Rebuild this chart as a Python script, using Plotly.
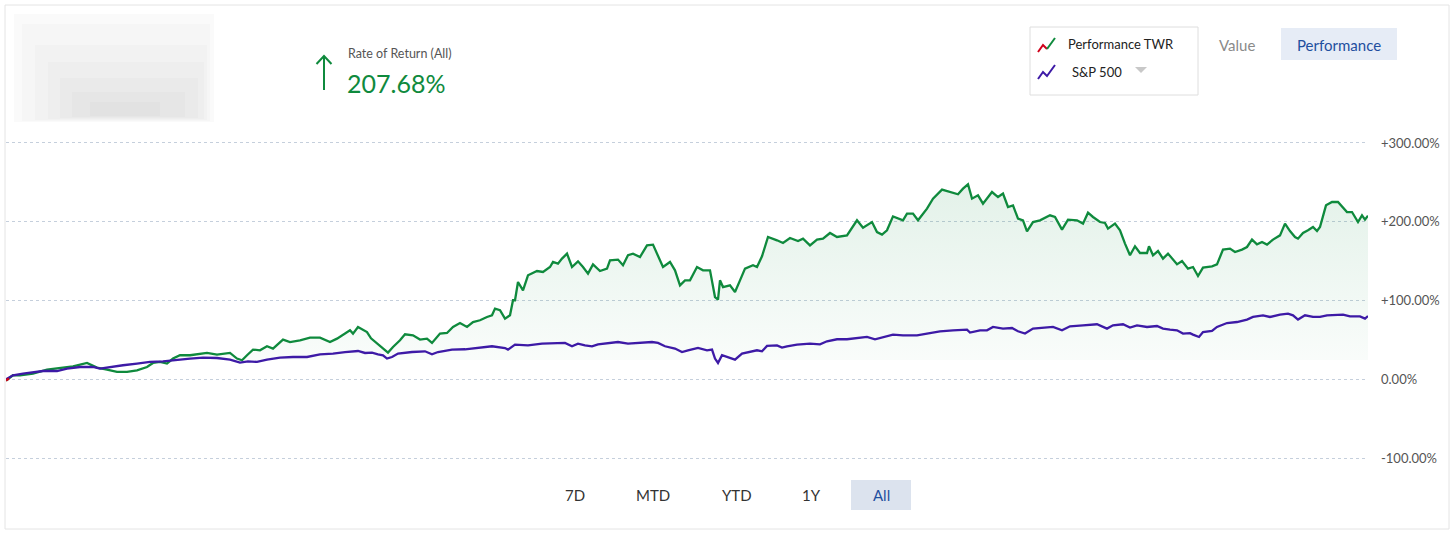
import plotly.graph_objects as go

# trading-day index (from start) and cumulative return in %
twr_day = [0, 3, 7, 14, 27, 41, 54, 67, 81, 91, 101, 111, 121, 131, 141, 147, 154, 161, 167, 174,
           184, 194, 201, 211, 224, 231, 236, 241, 247, 254, 261, 267, 277, 284, 294, 304, 314, 324,
           331, 344, 347, 352, 361, 365, 371, 377, 382, 387, 394, 399, 407, 414, 421, 426, 434, 441,
           447, 454, 461, 467, 474, 481, 486, 489, 494, 499, 504, 507, 509, 512, 517, 522, 531, 537,
           544, 547, 552, 556, 561, 566, 572, 577, 582, 587, 594, 601, 604, 612, 617, 622, 627, 634,
           641, 647, 654, 657, 664, 669, 674, 679, 684, 691, 697, 704, 709, 712, 714, 717, 724, 729,
           734, 739, 747, 751, 756, 762, 771, 777, 784, 792, 797, 804, 811, 817, 824, 831, 841, 851,
           857, 866, 871, 876, 881, 887, 897, 901, 907, 912, 921, 927, 936, 944, 952, 957, 962, 966,
           972, 977, 986, 992, 997, 1002, 1007, 1012, 1017, 1021, 1027, 1034, 1044, 1049, 1056, 1062,
           1071, 1077, 1082, 1087, 1094, 1099, 1102, 1109, 1114, 1119, 1124, 1129, 1134, 1141, 1143,
           1147, 1152, 1157, 1162, 1171, 1176, 1182, 1187, 1192, 1197, 1206, 1211, 1217, 1224, 1229,
           1236, 1241, 1246, 1251, 1256, 1261, 1267, 1274, 1279, 1284, 1289, 1292, 1297, 1302, 1307,
           1311, 1314, 1320, 1326, 1332, 1341, 1346, 1352, 1356, 1359, 1362]
twr_pct = [-1.5, 1.0, 5.1, 5.1, 7.2, 12.3, 14.8, 16.5, 20.7, 14.8, 12.3, 9.3, 9.3, 11.4, 15.6, 20.7,
           22.0, 19.9, 26.3, 30.5, 30.5, 32.6, 33.4, 31.3, 33.4, 26.3, 24.1, 30.5, 37.7, 36.8, 41.9,
           39.0, 50.4, 47.3, 49.5, 52.9, 52.9, 47.3, 51.6, 62.2, 58.0, 66.4, 60.0, 52.0, 45.3, 39.0,
           33.9, 41.0, 49.5, 57.1, 55.8, 50.4, 51.6, 46.1, 58.0, 58.8, 66.4, 71.4, 66.4, 72.7, 74.9,
           79.1, 81.2, 89.7, 87.6, 77.0, 81.2, 100.3, 100.3, 123.5, 112.9, 132.0, 137.4, 136.2, 142.5,
           148.9, 146.8, 153.2, 159.5, 142.5, 149.7, 142.5, 134.1, 145.9, 137.4, 140.5, 151.0, 151.9,
           144.7, 157.4, 159.5, 155.2, 170.0, 170.9, 151.0, 142.5, 148.9, 138.3, 119.3, 125.6, 125.6,
           142.5, 138.3, 138.3, 104.4, 101.1, 125.6, 117.1, 119.3, 110.8, 125.6, 140.5, 144.7, 142.5,
           156.1, 180.6, 176.4, 173.0, 179.3, 175.5, 178.5, 170.0, 177.3, 178.5, 185.7, 180.6, 182.7,
           201.8, 192.5, 199.6, 186.9, 183.6, 189.1, 206.8, 201.8, 210.3, 210.3, 201.8, 216.6, 229.3,
           240.7, 237.7, 234.8, 242.0, 247.5, 229.3, 233.5, 223.0, 237.7, 231.3, 235.7, 218.7, 220.8,
           203.9, 201.8, 187.8, 199.6, 201.8, 208.1, 206.0, 190.0, 202.7, 201.8, 197.6, 211.5, 206.0,
           199.6, 198.4, 191.2, 197.6, 189.1, 172.2, 157.4, 168.8, 160.3, 160.3, 168.8, 157.4, 162.8,
           153.2, 159.5, 145.9, 150.1, 140.5, 142.5, 131.1, 141.7, 143.4, 145.9, 164.6, 165.9, 161.5,
           164.6, 167.9, 177.3, 171.3, 174.2, 170.9, 177.3, 182.7, 197.6, 188.2, 180.6, 178.5, 185.7,
           189.1, 193.3, 188.2, 193.3, 220.8, 225.0, 225.0, 212.3, 212.3, 199.6, 208.1, 202.7, 207.68]

spx_day = [0, 7, 17, 27, 37, 51, 61, 74, 87, 94, 104, 117, 131, 144, 157, 171, 184, 197, 211, 224,
           234, 242, 251, 261, 274, 287, 301, 314, 327, 339, 352, 359, 366, 372, 377, 381, 386, 392,
           406, 419, 426, 432, 446, 459, 472, 486, 499, 502, 509, 522, 536, 549, 559, 566, 572, 579,
           586, 592, 606, 612, 622, 632, 646, 652, 659, 669, 676, 682, 692, 701, 706, 709, 712, 716,
           721, 726, 729, 736, 744, 751, 756, 761, 771, 776, 781, 791, 804, 814, 821, 831, 841, 851,
           861, 869, 877, 887, 897, 911, 921, 934, 947, 961, 964, 974, 981, 987, 997, 1006, 1012, 1019,
           1027, 1034, 1047, 1056, 1064, 1077, 1091, 1101, 1107, 1117, 1124, 1131, 1141, 1151, 1157,
           1164, 1171, 1177, 1184, 1187, 1193, 1197, 1206, 1211, 1221, 1231, 1241, 1247, 1257, 1264,
           1274, 1282, 1287, 1292, 1299, 1307, 1314, 1321, 1331, 1337, 1344, 1354, 1359, 1362]
spx_pct = [0.0, 5.1, 7.2, 9.3, 10.5, 10.5, 13.6, 15.6, 15.6, 13.6, 15.6, 17.8, 19.9, 22.0, 22.8, 25.0,
           26.3, 27.5, 27.0, 25.0, 21.2, 22.8, 22.0, 25.0, 27.5, 28.3, 28.3, 31.7, 32.6, 34.6, 35.9,
           33.4, 33.9, 31.7, 30.5, 26.3, 28.3, 32.6, 34.6, 35.5, 31.7, 34.6, 37.7, 38.1, 39.7, 41.9,
           39.7, 37.7, 44.0, 43.1, 45.3, 46.1, 46.1, 41.9, 45.3, 43.1, 41.9, 44.4, 46.1, 47.3, 45.3,
           46.1, 47.3, 46.1, 41.9, 39.0, 34.6, 36.8, 39.7, 36.8, 37.7, 26.3, 20.7, 30.5, 28.3, 27.0,
           25.0, 32.6, 34.6, 36.8, 35.5, 42.3, 43.1, 40.2, 41.9, 44.0, 45.3, 44.4, 48.2, 50.8, 50.8,
           52.4, 53.7, 50.8, 53.7, 56.7, 55.8, 55.8, 58.0, 60.9, 62.2, 63.1, 59.3, 62.2, 62.2, 66.4,
           64.3, 65.1, 60.9, 58.0, 64.3, 65.1, 66.4, 62.2, 67.3, 68.5, 69.8, 64.3, 68.5, 69.8, 65.6,
           68.5, 66.4, 67.6, 64.3, 63.1, 62.2, 58.0, 58.6, 56.7, 53.7, 60.0, 61.3, 66.4, 71.4, 72.7,
           75.8, 79.1, 81.2, 79.1, 82.1, 83.4, 81.2, 75.8, 81.2, 79.1, 79.1, 81.2, 81.2, 82.1, 79.9,
           79.9, 77.0, 80.3]

tick_vals = [300, 200, 100, 0, -100]
tick_text = ['+300.00%', '+200.00%', '+100.00%', '0.00%', '-100.00%']
range_buttons = ['7D', 'MTD', 'YTD', '1Y', 'All']
total_return = '207.68%'

GREEN = '#0f8a3d'
PURPLE = '#3d1aa6'
RED = '#d0021b'
FONT = 'Lato, Open Sans, sans-serif'

W, H = 1456, 537
ML, MR, MT, MB = 6, 88, 139, 75
PW, PH = W - ML - MR, H - MT - MB


def px(x):
    return (x - ML) / PW


def py(y):
    return (H - MB - y) / PH


fig = go.Figure()
fig.add_trace(go.Scatter(
    x=twr_day, y=twr_pct, mode='lines', name='Performance TWR',
    line=dict(color=GREEN, width=2.3), fill='tozeroy',
    fillgradient=dict(type='vertical', start=0, stop=250,
                      colorscale=[[0, 'rgba(255,255,255,0)'], [0.1, 'rgba(255,255,255,0)'],
                                  [0.1, 'rgba(20,140,70,0.025)'], [1, 'rgba(20,140,70,0.12)']]),
))
fig.add_trace(go.Scatter(x=spx_day, y=spx_pct, mode='lines', name='S&P 500',
                         line=dict(color=PURPLE, width=2.3)))
fig.add_trace(go.Scatter(x=twr_day[:2], y=twr_pct[:2], mode='lines',
                         line=dict(color=RED, width=2.3)))

shapes = []
# card border
shapes.append(dict(type='rect', xref='paper', yref='paper', x0=px(5), x1=px(1449), y0=py(5), y1=py(529),
                   line=dict(color='#e4e4e4', width=1), layer='below'))
# blurred account block (soft layered greys)
for (x0, y0, x1, y1, c) in [(14, 14, 214, 122, '#fafafa'), (22, 24, 210, 121, '#f6f6f6'),
                            (35, 45, 207, 120, '#f2f2f2'), (48, 62, 204, 119, '#eeeeee'),
                            (60, 78, 198, 118, '#eaeaea'), (72, 92, 185, 117, '#e6e6e6'),
                            (90, 102, 160, 116, '#e2e2e2')]:
    shapes.append(dict(type='rect', xref='paper', yref='paper', x0=px(x0), x1=px(x1), y0=py(y0), y1=py(y1),
                       fillcolor=c, line=dict(width=0), layer='below'))
# up arrow
shapes.append(dict(type='line', xref='paper', yref='paper', x0=px(324), x1=px(324), y0=py(57), y1=py(90),
                   line=dict(color=GREEN, width=2)))
shapes.append(dict(type='path', xref='paper', yref='paper',
                   path=f'M {px(316.5)},{py(64)} L {px(324)},{py(56)} L {px(331.5)},{py(64)}',
                   line=dict(color=GREEN, width=2)))
# legend box
shapes.append(dict(type='rect', xref='paper', yref='paper', x0=px(1030), x1=px(1198), y0=py(27), y1=py(95),
                   line=dict(color='#dedede', width=1), fillcolor='white'))
shapes.append(dict(type='path', xref='paper', yref='paper',
                   path=f'M {px(1038)},{py(52)} L {px(1043)},{py(45)} L {px(1047)},{py(49)}',
                   line=dict(color=RED, width=2)))
shapes.append(dict(type='path', xref='paper', yref='paper',
                   path=f'M {px(1047)},{py(49)} L {px(1055)},{py(38)}',
                   line=dict(color=GREEN, width=2)))
shapes.append(dict(type='path', xref='paper', yref='paper',
                   path=f'M {px(1038)},{py(79)} L {px(1043)},{py(72)} L {px(1047)},{py(76)} L {px(1055)},{py(65)}',
                   line=dict(color=PURPLE, width=2)))
shapes.append(dict(type='path', xref='paper', yref='paper',
                   path=f'M {px(1135)},{py(67)} L {px(1147)},{py(67)} L {px(1141)},{py(73)} Z',
                   fillcolor='#c8c8c8', line=dict(width=0)))
# performance toggle
shapes.append(dict(type='rect', xref='paper', yref='paper', x0=px(1281), x1=px(1397), y0=py(28), y1=py(60),
                   fillcolor='#e6ecf6', line=dict(width=0)))
# "All" range button
shapes.append(dict(type='rect', xref='paper', yref='paper', x0=px(851), x1=px(911), y0=py(480), y1=py(510),
                   fillcolor='#dce3ee', line=dict(width=0)))

annotations = [
    dict(text='Rate of Return (All)', x=px(346), y=py(53), xanchor='left', yanchor='middle',
         font=dict(size=12.5, color='#555555')),
    dict(text=total_return, x=px(345), y=py(83), xanchor='left', yanchor='middle',
         font=dict(size=25, color=GREEN)),
    dict(text='Performance TWR', x=px(1066), y=py(44), xanchor='left', yanchor='middle',
         font=dict(size=13, color='#222222')),
    dict(text='S&P 500', x=px(1070), y=py(72), xanchor='left', yanchor='middle',
         font=dict(size=13, color='#222222')),
    dict(text='Value', x=px(1237), y=py(45), xanchor='center', yanchor='middle',
         font=dict(size=15, color='#8a8a8a')),
    dict(text='Performance', x=px(1339), y=py(45), xanchor='center', yanchor='middle',
         font=dict(size=15, color='#1f4f9f')),
]
for label, cx in zip(range_buttons, [575, 653, 737, 811, 881]):
    annotations.append(dict(text=label, x=px(cx), y=py(495), xanchor='center', yanchor='middle',
                            font=dict(size=15, color='#1f4f9f' if label == 'All' else '#333333')))
for a in annotations:
    a.update(xref='paper', yref='paper', showarrow=False)

fig.update_layout(
    width=W, height=H,
    margin=dict(l=ML, r=MR, t=MT, b=MB),
    paper_bgcolor='white', plot_bgcolor='white',
    showlegend=False, hovermode=False,
    font=dict(family=FONT, color='#555555'),
    shapes=shapes, annotations=annotations,
    xaxis=dict(range=[0, 1362], visible=False),
    yaxis=dict(range=[-105, 305], side='right', tickvals=tick_vals, ticktext=tick_text,
               showgrid=True, gridcolor='#c5cfdc', griddash='dot', gridwidth=1,
               zeroline=False, showline=False, ticks='', ticklabelstandoff=12,
               tickfont=dict(size=13, color='#555555')),
)

# drop the browser's default body margin so the figure sits at the page origin
fig.write_html('out.html', config={'displayModeBar': False},
               post_script="document.body.style.margin='0';")
